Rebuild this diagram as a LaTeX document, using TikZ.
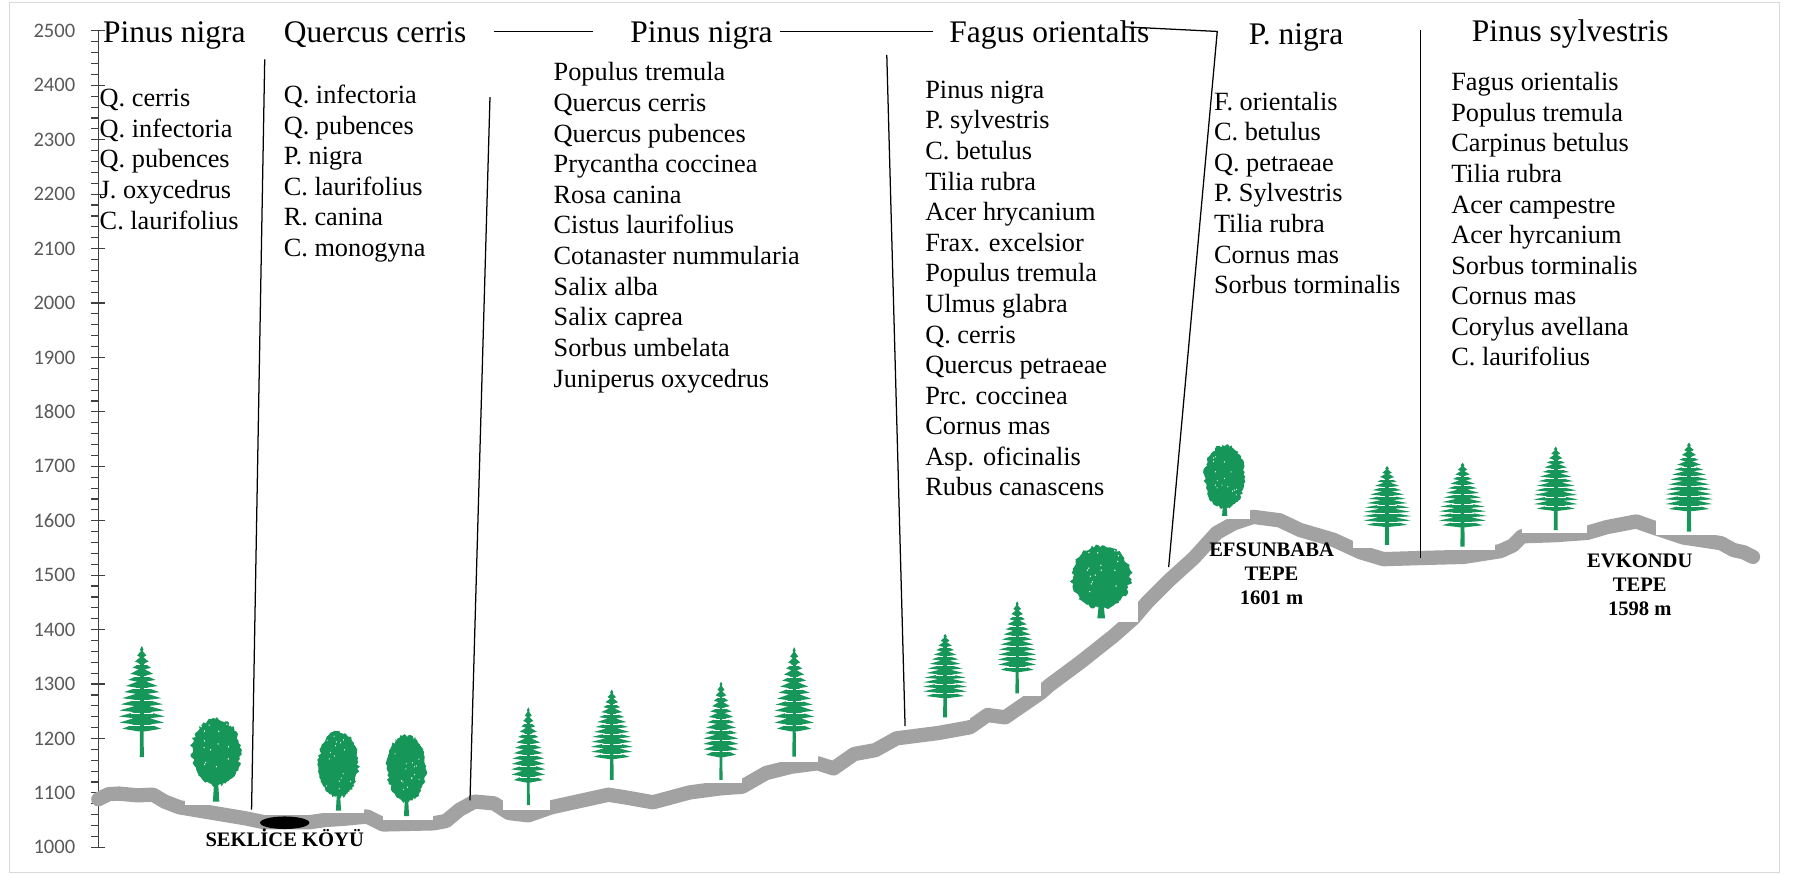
\documentclass[tikz,border=0pt]{standalone}
\usepackage{fontspec}
\setmainfont{Liberation Serif}
\newfontfamily\axisfont{Carlito}
\definecolor{treegreen}{RGB}{22,150,88}
\definecolor{ground}{RGB}{162,162,162}
\definecolor{axisgrey}{RGB}{89,89,89}
\definecolor{framegrey}{RGB}{217,217,217}

% conifer: #1 trunk x, #2 foot y, #3 height, #4 crown half-width
\newcommand\pinetree[4]{%
  \begin{scope}[shift={(#1,#2)}, xscale=#4/20, yscale=-#3/100]
    \fill[treegreen] (0,100) -- (1.5,97) -- (0.8,95.5) -- (4,91.5) -- (1.4,90)
      -- (6,86) -- (2,84.5) -- (8,80.5) -- (2.6,79) -- (10,75) -- (3.2,73.5)
      -- (12,69.5) -- (3.8,68) -- (14,64) -- (4.4,62.5) -- (15.5,58.5) -- (5,57)
      -- (17,53) -- (5.5,51.5) -- (18.5,47.5) -- (6,46) -- (19.5,42) -- (6.5,40.5)
      -- (20,36.5) -- (7,35) -- (19.5,31) -- (7,29.5) -- (17,25.5) -- (2.5,23)
      -- (-2.5,23) -- (-17,25.5) -- (-7,29.5) -- (-19.5,31) -- (-7,35) -- (-20,36.5)
      -- (-6.5,40.5) -- (-19.5,42) -- (-6,46) -- (-18.5,47.5) -- (-5.5,51.5) -- (-17,53)
      -- (-5,57) -- (-15.5,58.5) -- (-4.4,62.5) -- (-14,64) -- (-3.8,68) -- (-12,69.5)
      -- (-3.2,73.5) -- (-10,75) -- (-2.6,79) -- (-8,80.5) -- (-2,84.5) -- (-6,86)
      -- (-1.4,90) -- (-4,91.5) -- (-0.8,95.5) -- (-1.5,97) -- cycle;
    \foreach \nx/\ny in {2/84.5,3.2/73.5,4.4/62.5,5.5/51.5,6.5/40.5,7/29.5}{
      \draw[white, line width=0.6pt] (1.6,\ny-0.8) -- (\nx+3,\ny-0.8);
      \draw[white, line width=0.6pt] (-1.6,\ny-0.8) -- (-\nx-3,\ny-0.8);
    }
    \fill[treegreen] (-1.8,0) -- (1.8,0) -- (0.8,98) -- (-0.8,98) -- cycle;
  \end{scope}}

% broad-leaved tree: #1 trunk x, #2 foot y, #3 height, #4 crown half-width,
% #5 crown bottom (percent of height), #6 seed
\newcommand\leaftree[6]{%
  \begin{scope}[shift={(#1,#2)}, xscale=#4/50, yscale=-#3/100]
    \pgfmathsetseed{#6}
    \fill[treegreen] (-6,0) -- (6,0) -- (3,#5+14) -- (-3,#5+14) -- cycle;
    \fill[treegreen] plot[samples=90, domain=0:356, variable=\a]
      ({(50-8*rnd)*cos(\a)}, {(100+#5)/2+((100-#5)/2-5*rnd)*sin(\a)}) -- cycle;
    \foreach \i in {1,...,16}{
      \fill[white] ({-30+60*rnd}, {#5+12+(80-#5)*rnd}) circle (1.1);
    }
  \end{scope}}

\begin{document}
\begin{tikzpicture}[x=1pt, y=-1pt,
  title/.style={anchor=base west, inner sep=0pt, font=\fontsize{27.5}{30}\selectfont},
  species/.style={anchor=base west, inner sep=0pt, font=\fontsize{23}{26}\selectfont},
  place/.style={anchor=base, inner sep=0pt, font=\fontsize{18}{21}\selectfont\bfseries},
  ylabel/.style={anchor=east, inner sep=0pt, text=axisgrey, font=\fontsize{18}{20}\axisfont},
  axisline/.style={draw=black!75, line width=1pt},
  divider/.style={draw=black, line width=1.1pt},
  terrain/.style={draw=ground, line width=12.5pt, line cap=round, line join=round},
  treebox/.style={fill=white},
]
\useasboundingbox (0,0) rectangle (1568,765);
\draw[framegrey, line width=1pt] (8,2) rectangle (1556,763);

% altitude axis
\coordinate (axtop) at (86,27);
\coordinate (axbot) at (86,741);
\draw[axisline] (axtop) -- (axbot);
\foreach \m in {0,...,75}{
  \pgfmathsetmacro\yy{741-9.52*\m}
  \draw[axisline] (80,\yy) -- (86,\yy);
}
\foreach \k in {0,...,15}{
  \pgfmathsetmacro\yy{741-47.6*\k}
  \pgfmathtruncatemacro\lab{1000+100*\k}
  \draw[axisline] (80,\yy) -- (92,\yy);
  \node[ylabel, name=ylab\k] at (66,\yy) {\lab};
}

% ground profile
\draw[terrain] (86,699) -- (95,694.5) -- (104,694) -- (120,695.5) -- (134,695)
  -- (144,701) -- (157,706) -- (187,711) -- (214,715.5) -- (231,719) -- (271,719)
  -- (285,717) -- (301,716) -- (321,714) -- (335,721) -- (379,720) -- (390,718)
  -- (402,708) -- (415,701) -- (432,702.5) -- (445,711) -- (462,713) -- (482,706)
  -- (532,695) -- (545,697) -- (571,701.6) -- (603,693) -- (630,689.4) -- (649,688)
  -- (670,676) -- (692,670.5) -- (715,667.5) -- (729,672) -- (747,659.4) -- (765.5,656)
  -- (784,645.7) -- (820.7,641) -- (848.3,636) -- (863.6,625.3) -- (879,627.3)
  -- (910,606) -- (918,599) -- (945,579) -- (974,556) -- (991,541) -- (1003,527)
  -- (1023,507) -- (1044,488) -- (1064,466) -- (1079,457.6) -- (1096,452)
  -- (1119,455) -- (1137,463.5) -- (1166,472) -- (1190,483) -- (1210,489)
  -- (1242,488) -- (1280,487) -- (1312,482) -- (1323,477) -- (1331,469)
  -- (1360,468) -- (1388,466) -- (1405,461) -- (1431,456) -- (1445,461)
  -- (1472,470) -- (1505,475) -- (1516,481) -- (1525,483) -- (1533,487);

% tree panels
\foreach \xa/\ya/\xb/\yb in {93.7/562.6/147/666, 162/622/219/704, 274.5/632.6/318.6/711,
  334.7/636.3/379/717, 440/616.5/481/708.3, 508.5/601/557.5/685, 607.5/594/649/685,
  669.5/564/715/666, 797/552.4/848.5/629.5, 864/524/910/609, 930/471.3/995/543.6,
  1049/383.3/1093/454, 1183.5/402.9/1240.4/479.5, 1250/399.4/1307.4/481,
  1330.8/385.4/1387.6/466.4, 1448.2/381.9/1505/467.9}{
  \fill[treebox] (\xa,\ya) rectangle (\xb,\yb);
}

% conifers
\pinetree{124}{662}{97}{20}
\pinetree{462}{704}{85.5}{15}
\pinetree{535}{682}{79}{18.5}
\pinetree{630.5}{682}{86}{15.5}
\pinetree{694.5}{661.7}{95.7}{17.5}
\pinetree{826.5}{627.3}{73}{19.5}
\pinetree{889.5}{606.3}{80.5}{17}
\pinetree{1213}{476.6}{69}{21}
\pinetree{1279}{478}{73.4}{21}
\pinetree{1360.5}{463.5}{73}{19.5}
\pinetree{1477}{465}{78}{21}

% broad-leaved trees
\leaftree{189}{701}{74}{23.3}{17}{11}
\leaftree{296}{709}{71}{18.8}{14}{23}
\leaftree{355.5}{713.6}{72.6}{18.5}{15}{37}
\leaftree{963}{540.7}{65}{28}{11}{41}
\leaftree{1071}{451.2}{63.5}{19.3}{8}{53}

% village
\fill[black] (249,719.5) ellipse [x radius=21.5, y radius=5.5];

% zone dividers
\coordinate (d1a) at (231.5,52);   \coordinate (d1b) at (220,708);
\coordinate (d2a) at (428.5,85);   \coordinate (d2b) at (411,700);
\coordinate (d3a) at (775.5,48);   \coordinate (d3b) at (791.5,635);
\coordinate (d4a) at (1064.5,27.5); \coordinate (d4b) at (1022,496);
\coordinate (d5a) at (1242.5,26.5); \coordinate (d5b) at (1242.5,488);
\coordinate (h1a) at (432,27.7);   \coordinate (h1b) at (518.5,27.7);
\coordinate (h2a) at (682,27.8);   \coordinate (h2b) at (816,27.8);
\coordinate (h3a) at (984,23.5);
\draw[divider] (d1a) -- (d1b);
\draw[divider] (d2a) -- (d2b);
\draw[divider] (d3a) -- (d3b);
\draw[divider] (h3a) -- (d4a) -- (d4b);
\draw[divider] (d5a) -- (d5b);
\draw[divider] (h1a) -- (h1b);
\draw[divider] (h2a) -- (h2b);

% zone headings
\node[title] (t1) at (90,37.5) {Pinus nigra};
\node[title] (t2) at (248,37.5) {Quercus cerris};
\node[title] (t3) at (551,37.5) {Pinus nigra};
\node[title] (t4) at (830,37.5) {Fagus orientalis};
\node[title] (t5) at (1092,39) {P. nigra};
\node[title] (t6) at (1287,36.5) {Pinus sylvestris};

% accompanying species
\newcommand\specieslist[5]{%
  \foreach \s [count=\i from 0] in {#5}{
    \node[species, name=#1-\i] at (#2,{#3+\i*#4}) {\s};
  }}
\specieslist{ca}{87}{93}{26.9}{Q. cerris, Q. infectoria, Q. pubences, J. oxycedrus, C. laurifolius}
\specieslist{cb}{248}{90.4}{26.8}{Q. infectoria, Q. pubences, P. nigra, C. laurifolius, R. canina, C. monogyna}
\specieslist{cc}{484}{70.6}{26.8}{Populus tremula, Quercus cerris, Quercus pubences, Prycantha coccinea, Rosa canina, Cistus laurifolius, Cotanaster nummularia, Salix alba, Salix caprea, Sorbus umbelata, Juniperus oxycedrus}
\specieslist{cd}{809}{86}{26.75}{Pinus nigra, P. sylvestris, C. betulus, Tilia rubra, Acer hrycanium, Frax. excelsior, Populus tremula, Ulmus glabra, Q. cerris, Quercus petraeae, Prc. coccinea, Cornus mas, Asp. oficinalis, Rubus canascens}
\specieslist{ce}{1061.5}{96.5}{26.7}{F. orientalis, C. betulus, Q. petraeae, P. Sylvestris, Tilia rubra, Cornus mas, Sorbus torminalis}
\specieslist{cf}{1269}{79.5}{26.7}{Fagus orientalis, Populus tremula, Carpinus betulus, Tilia rubra, Acer campestre, Acer hyrcanium, Sorbus torminalis, Cornus mas, Corylus avellana, C. laurifolius}

% place names
\node[place] (village) at (249,740.5) {SEKLİCE KÖYÜ};
\node[place] (efs1) at (1112,487) {EFSUNBABA};
\node[place] (efs2) at (1112,508) {TEPE};
\node[place] (efs3) at (1112,529) {1601 m};
\node[place] (evk1) at (1434,496) {EVKONDU};
\node[place] (evk2) at (1434,517) {TEPE};
\node[place] (evk3) at (1434,538) {1598 m};
\end{tikzpicture}
\end{document}
